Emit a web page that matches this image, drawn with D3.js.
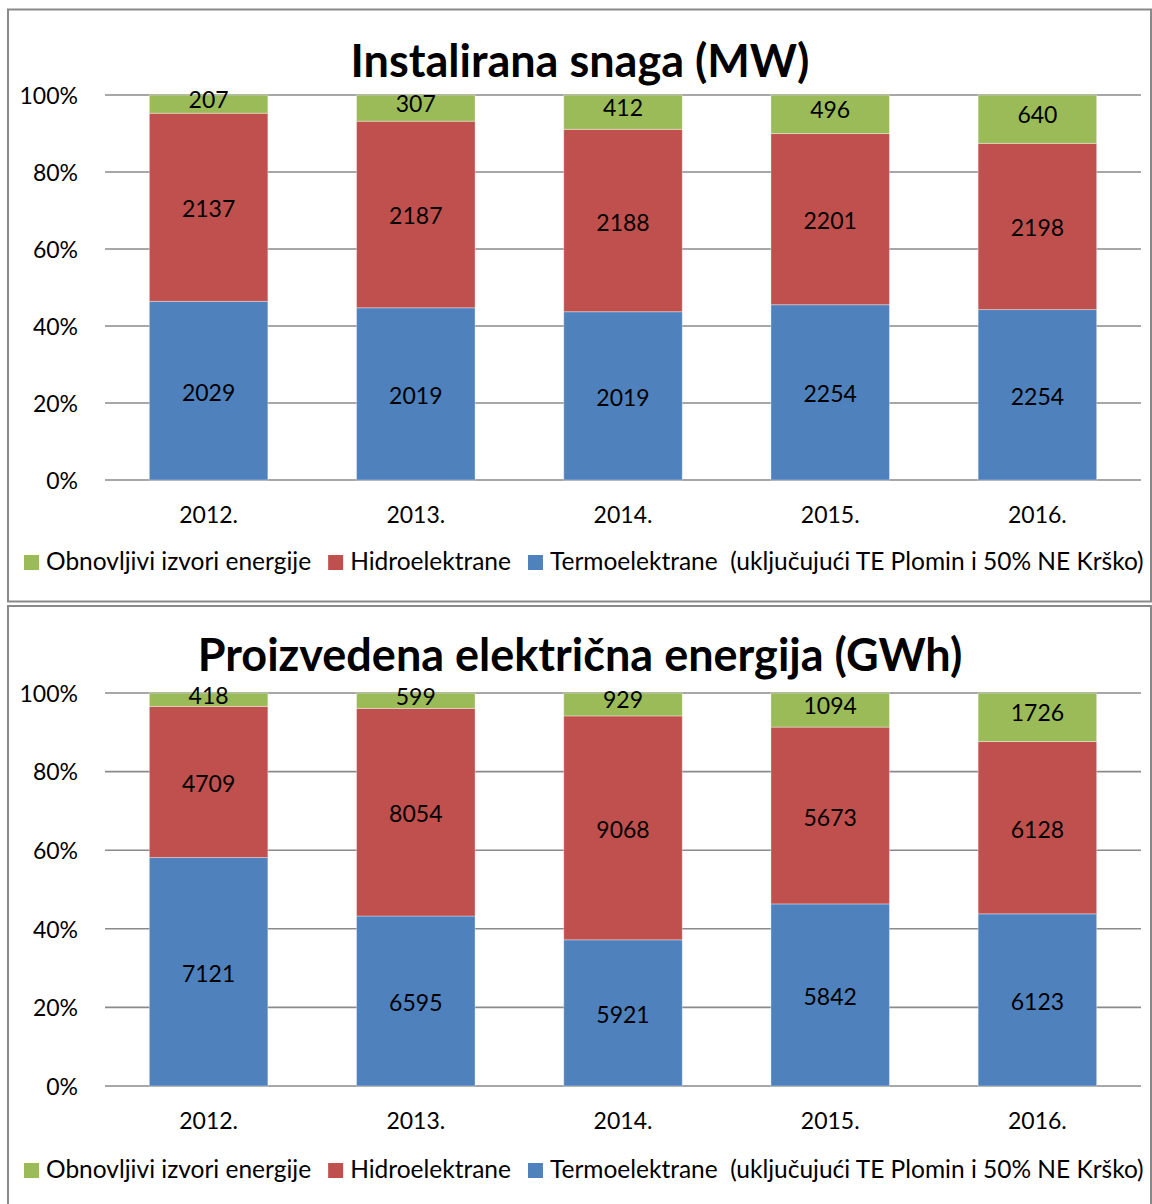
<!DOCTYPE html>
<html>
<head>
<meta charset="utf-8">
<script src="https://cdn.jsdelivr.net/npm/d3@7"></script>
<style>
  html, body { margin: 0; padding: 0; background: #fff; }
  svg { display: block; }
  text { font-family: Lato, "Open Sans", sans-serif; fill: #000; }
</style>
</head>
<body>
<svg id="chart" width="1152" height="1204"></svg>
<script>
// ---- Data ----
const years = ["2012.", "2013.", "2014.", "2015.", "2016."];
const seriesNames = ["Obnovljivi izvori energije", "Hidroelektrane", "Termoelektrane  (uključujući TE Plomin i 50% NE Krško)"];
const seriesKeys = ["renewable", "hydro", "thermal"];
const seriesColors = ["#9BBB59", "#C0504D", "#4F81BD"];
const yTickValues = [0, 0.2, 0.4, 0.6, 0.8, 1.0];

// Installed power (MW)
const mwRenewable = [207, 307, 412, 496, 640];
const mwHydro     = [2137, 2187, 2188, 2201, 2198];
const mwThermal   = [2029, 2019, 2019, 2254, 2254];

// Produced electricity (GWh)
const gwhRenewable = [418, 599, 929, 1094, 1726];
const gwhHydro     = [4709, 8054, 9068, 5673, 6128];
const gwhThermal   = [7121, 6595, 5921, 5842, 6123];

const panels = [
  { title: "Instalirana snaga (MW)", renewable: mwRenewable, hydro: mwHydro, thermal: mwThermal,
    box: [8, 9.5, 1143, 592], plotTop: 95, plotBottom: 480, titleY: 77, xLabelY: 523, legendY: 570 },
  { title: "Proizvedena električna energija (GWh)", renewable: gwhRenewable, hydro: gwhHydro, thermal: gwhThermal,
    box: [8, 606, 1143, 620], plotTop: 693, plotBottom: 1086, titleY: 671, xLabelY: 1129, legendY: 1178 }
];

const svg = d3.select("#chart");
const labelSize = 23;
const legendSize = 24.5;
const labelOffset = { thermal: 10, hydro: 10, renewable: 4 };

panels.forEach(p => {
  const g = svg.append("g");
  // panel border
  g.append("rect")
    .attr("x", p.box[0]).attr("y", p.box[1])
    .attr("width", p.box[2]).attr("height", p.box[3])
    .attr("fill", "#fff").attr("stroke", "#898989").attr("stroke-width", 2);

  // title
  g.append("text")
    .attr("x", 580).attr("y", p.titleY)
    .attr("text-anchor", "middle")
    .style("font-weight", 700).style("font-size", "45px")
    .text(p.title);

  const table = years.map((yr, i) => ({
    year: yr, renewable: p.renewable[i], hydro: p.hydro[i], thermal: p.thermal[i]
  }));

  const x = d3.scaleBand().domain(years).range([105, 1141])
    .paddingInner(0.428).paddingOuter(0.214);
  const y = d3.scaleLinear().domain([0, 1]).range([p.plotBottom, p.plotTop]);

  // gridlines
  g.append("g").selectAll("line").data(yTickValues).join("line")
    .attr("x1", 105).attr("x2", 1141)
    .attr("y1", d => y(d)).attr("y2", d => y(d))
    .attr("stroke", "#8a8a8a").attr("stroke-width", 1.6);

  // y axis labels
  const yAxis = d3.axisLeft(y).tickValues(yTickValues).tickFormat(d3.format(".0%"))
    .tickSize(0).tickPadding(0);
  const ya = g.append("g").attr("transform", "translate(78,0)").call(yAxis);
  ya.select(".domain").remove();
  ya.selectAll("text").attr("font-family", null).style("font-size", labelSize + "px")
    .attr("dy", "0.36em").attr("fill", "#000");

  // stacked bars (bottom->top: thermal, hydro, renewable)
  const stack = d3.stack().keys(["thermal", "hydro", "renewable"]).offset(d3.stackOffsetExpand);
  const layers = stack(table);
  const colorOf = k => seriesColors[seriesKeys.indexOf(k)];

  layers.forEach(layer => {
    const lg = g.append("g");
    lg.selectAll("rect").data(layer).join("rect")
      .attr("x", d => x(d.data.year))
      .attr("width", x.bandwidth())
      .attr("y", d => y(d[1]))
      .attr("height", d => y(d[0]) - y(d[1]))
      .attr("fill", colorOf(layer.key))
      .attr("stroke", "rgba(255,255,255,0.35)").attr("stroke-width", 1);
    lg.selectAll("text").data(layer).join("text")
      .attr("x", d => x(d.data.year) + x.bandwidth() / 2)
      .attr("y", d => (y(d[0]) + y(d[1])) / 2 + labelOffset[layer.key])
      .attr("text-anchor", "middle")
      .style("font-size", labelSize + "px")
      .text(d => d.data[layer.key]);
  });

  // x axis labels
  const xAxis = d3.axisBottom(x).tickSize(0).tickPadding(0);
  const xa = g.append("g").attr("transform", `translate(0,${p.xLabelY})`).call(xAxis);
  xa.select(".domain").remove();
  xa.selectAll("text").attr("font-family", null).attr("dy", 0)
    .style("font-size", labelSize + "px").attr("fill", "#000");

  // legend (flow layout)
  const lg = g.append("g");
  let cx = 24;
  seriesNames.forEach((name, i) => {
    lg.append("rect").attr("x", cx).attr("y", p.legendY - 15)
      .attr("width", 15).attr("height", 15).attr("fill", seriesColors[i]);
    const t = lg.append("text").attr("x", cx + 22).attr("y", p.legendY)
      .style("font-size", legendSize + "px").style("white-space", "pre")
      .text(name);
    cx = cx + 22 + t.node().getComputedTextLength() + 17;
  });
});
</script>
</body>
</html>
